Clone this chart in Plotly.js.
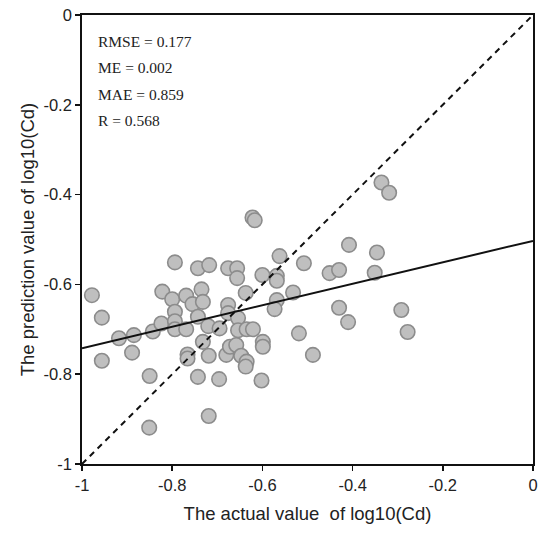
<!DOCTYPE html>
<html>
<head>
<meta charset="utf-8">
<script src="https://cdn.plot.ly/plotly-3.0.1.min.js"></script>
<style>html,body{margin:0;padding:0;background:#fff;}#chart{width:541px;height:533px;}</style>
</head>
<body>
<div id="chart"></div>
<script>
// Actual vs predicted log10(Cd)
const actual = [
  -0.978, -0.956, -0.956, -0.918, -0.885, -0.889, -0.843, -0.850, -0.851, -0.822,
  -0.824, -0.800, -0.794, -0.794, -0.794, -0.794, -0.769, -0.769, -0.766, -0.766,
  -0.755, -0.743, -0.743, -0.743, -0.735, -0.732, -0.732, -0.720, -0.718, -0.719,
  -0.719, -0.696, -0.695, -0.680, -0.676, -0.676, -0.676, -0.672, -0.658, -0.656,
  -0.656, -0.654, -0.654, -0.647, -0.637, -0.635, -0.635, -0.637, -0.621, -0.622,
  -0.617, -0.600, -0.599, -0.599, -0.602, -0.568, -0.568, -0.562, -0.568, -0.573,
  -0.532, -0.508, -0.519, -0.488, -0.451, -0.430, -0.430, -0.408, -0.410, -0.351,
  -0.346, -0.336, -0.319, -0.292, -0.278
];
const predicted = [
  -0.624, -0.674, -0.770, -0.720, -0.713, -0.752, -0.705, -0.804, -0.919, -0.616,
  -0.687, -0.633, -0.551, -0.661, -0.682, -0.700, -0.625, -0.700, -0.756, -0.765,
  -0.644, -0.564, -0.672, -0.806, -0.611, -0.639, -0.728, -0.693, -0.557, -0.759,
  -0.893, -0.811, -0.698, -0.757, -0.564, -0.646, -0.664, -0.739, -0.735, -0.564,
  -0.586, -0.675, -0.702, -0.759, -0.619, -0.700, -0.772, -0.783, -0.700, -0.451,
  -0.457, -0.579, -0.728, -0.739, -0.814, -0.581, -0.592, -0.537, -0.635, -0.655,
  -0.618, -0.553, -0.709, -0.757, -0.575, -0.568, -0.652, -0.512, -0.684, -0.574,
  -0.529, -0.373, -0.396, -0.657, -0.706
];
// fitted regression line: y = intercept + slope * x
const fitSlope = 0.239;
const fitIntercept = -0.503;
const lineRange = [-1, 0];

const tickValues = [-1, -0.8, -0.6, -0.4, -0.2, 0];
const tickLabels = ["-1", "-0.8", "-0.6", "-0.4", "-0.2", "0"];

const statLabels = ["RMSE = 0.177", "ME = 0.002", "MAE = 0.859", "R = 0.568"];

const traces = [
  {
    x: actual, y: predicted, type: 'scatter', mode: 'markers',
    marker: {size: 14.5, color: '#bfbfbf', line: {color: '#8c8c8c', width: 1.6}},
    hoverinfo: 'skip', showlegend: false
  },
  {
    x: lineRange, y: lineRange, type: 'scatter', mode: 'lines',
    line: {color: '#111', width: 2, dash: '6px,5px'}, showlegend: false, hoverinfo: 'skip'
  },
  {
    x: lineRange, y: lineRange.map(v => fitIntercept + fitSlope * v), type: 'scatter', mode: 'lines',
    line: {color: '#111', width: 2}, showlegend: false, hoverinfo: 'skip'
  }
];

const statY = [0.941, 0.882, 0.824, 0.764];
const annotations = statLabels.map((t, i) => ({
  text: t, xref: 'paper', yref: 'paper', x: 0.031, y: statY[i],
  xanchor: 'left', yanchor: 'middle', showarrow: false,
  font: {family: '"Liberation Serif", "Times New Roman", serif', size: 15.5, color: '#222'}
}));

const axisCommon = {
  range: [-1, 0], tickmode: 'array', tickvals: tickValues, ticktext: tickLabels,
  ticks: 'outside', ticklen: 5, tickwidth: 1.5, tickcolor: '#111',
  showline: true, linecolor: '#111', linewidth: 1.8, mirror: true,
  showgrid: false, zeroline: false,
  tickfont: {family: '"Liberation Sans", Arial, sans-serif', size: 16.5, color: '#222'}
};

const layout = {
  width: 541, height: 533,
  margin: {l: 82, r: 8, t: 15, b: 69},
  paper_bgcolor: '#fff', plot_bgcolor: '#fff',
  xaxis: Object.assign({}, axisCommon, {
    title: {text: 'The actual value  of log10(Cd)', standoff: 14,
      font: {family: '"Liberation Sans", Arial, sans-serif', size: 18.5, color: '#222'}}
  }),
  yaxis: Object.assign({}, axisCommon, {
    title: {text: 'The prediction value of log10(Cd)', standoff: 4,
      font: {family: '"Liberation Sans", Arial, sans-serif', size: 18.5, color: '#222'}}
  }),
  annotations: annotations
};

Plotly.newPlot('chart', traces, layout, {displayModeBar: false, staticPlot: true});
</script>
</body>
</html>
